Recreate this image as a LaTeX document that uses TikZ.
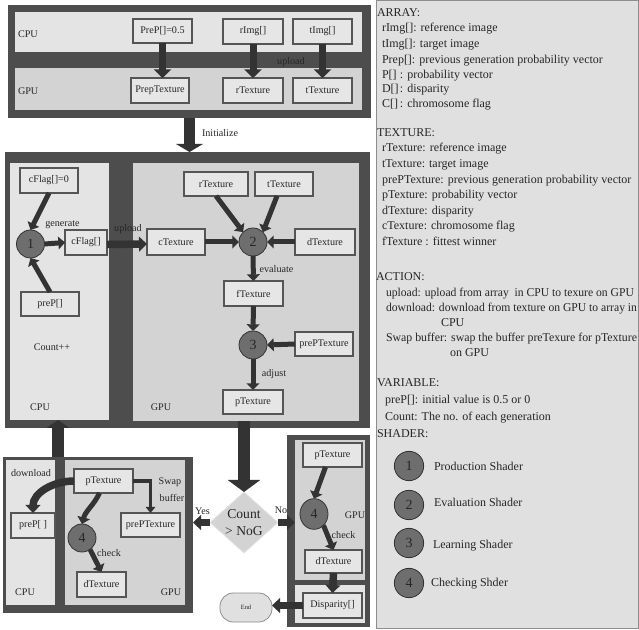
\documentclass[tikz,border=0pt]{standalone}
\usepackage{fontspec}
\setmainfont{Liberation Serif}
\usetikzlibrary{arrows.meta,shapes.geometric,calc}
\definecolor{cFrm}{HTML}{4D4D4D}
\definecolor{cCpu}{HTML}{E4E4E4}
\definecolor{cGpu}{HTML}{D3D3D3}
\definecolor{cBox}{HTML}{E6E6E6}
\definecolor{cEdge}{HTML}{555555}
\definecolor{cArr}{HTML}{333333}
\definecolor{cCirc}{HTML}{6E6E6E}
\definecolor{cLeg}{HTML}{E0E0E0}
\definecolor{cLegB}{HTML}{8C8C8C}
\definecolor{cTxt}{HTML}{262626}
\newcommand\fw[2]{\resizebox{\dimexpr #1pt*3/4\relax}{\height}{#2}}
\begin{document}
\begin{tikzpicture}[x=0.75pt,y=-0.75pt,
  every node/.style={inner sep=0pt, outer sep=0pt, text=cTxt},
  w/.style={minimum width=#1*0.75pt},
  h/.style={minimum height=#1*0.75pt},
  panel/.style={rectangle, anchor=north west, draw=none},
  frm/.style={panel, fill=cFrm},
  cpu/.style={panel, fill=cCpu},
  gpu/.style={panel, fill=cGpu},
  bx/.style={rectangle, draw=cEdge, fill=cBox, line width=0.8pt, font=\fontsize{7.6}{9}\selectfont},
  lbl/.style={font=\fontsize{7.6}{9}\selectfont},
  shd/.style={circle, draw=cArr, fill=cCirc, minimum size=21pt, line width=0.6pt, font=\fontsize{10.5}{12}\selectfont},
  lg/.style={anchor=base west, font=\fontsize{9}{11}\selectfont},
  arrm/.style={draw=cArr, line width=3.75pt, -{Triangle[length=5pt,width=9.5pt]}},
  arrt/.style={draw=cArr, line width=5.25pt, -{Triangle[length=6.5pt,width=13pt]}},
  arrw/.style={draw=cArr, line width=5.6pt, -{Triangle[length=6pt,width=11pt]}},
  arrI/.style={draw=cArr, line width=8.25pt, -{Triangle[length=6pt,width=20pt]}},
  arrD/.style={draw=cArr, line width=9pt, -{Triangle[length=9pt,width=24pt]}},
  arrU/.style={draw=cArr, line width=9pt, -{Triangle[length=6pt,width=17pt]}},
  arrs/.style={draw=cArr, line width=2.6pt, -{Triangle[length=4.5pt,width=7pt]}}
]
\useasboundingbox (0,0) rectangle (639,630);

% ---------- top block ----------
\node[frm, w=363, h=113] (top) at (8,5) {};
\node[cpu, w=347, h=40] (topcpu) at (15,12) {};
\node[gpu, w=347, h=42] (topgpu) at (15,68) {};
\node[lbl, anchor=west] (tcpul) at (18,34) {CPU};
\node[lbl, anchor=west] (tgpul) at (18,91) {GPU};
\node[bx, w=59, h=24] (preP0) at (162.5,31) {PreP[]=0.5};
\node[bx, w=60, h=25] (rImg) at (253,31.5) {rImg[]};
\node[bx, w=59, h=25] (tImg) at (322.5,31.5) {tImg[]};
\node[bx, w=58, h=25] (prepT) at (160,90.5) {PrepTexture};
\node[bx, w=60, h=25] (rT0) at (253,90.5) {rTexture};
\node[bx, w=59, h=25] (tT0) at (322.5,90.5) {tTexture};
\node[lbl] (upl0) at (291,62) {upload};
\draw[arrt] (preP0.south) -- (preP0.south |- prepT.north);
\draw[arrt] (rImg.south) -- (rT0.north);
\draw[arrt] (tImg.south) -- (tT0.north);

% ---------- middle block ----------
\node[frm, w=365, h=276] (mid) at (5,152) {};
\node[cpu, w=99, h=257] (midcpu) at (10,163) {};
\node[gpu, w=226, h=258] (midgpu) at (133,163) {};
\draw[arrI] (top.south) -- (top.south |- mid.north);
\node[lbl, anchor=west] (init) at (202,133) {Initialize};

\node[bx, w=58, h=25] (cF0) at (49,180.5) {cFlag[]=0};
\node[shd] (c1) at (30.5,244) {1};
\node[bx, w=42, h=25] (cF) at (86,242.5) {cFlag[]};
\node[bx, w=58, h=24] (preP) at (50,304) {preP[]};
\node[lbl] (gen) at (62.5,225) {generate};
\node[lbl] (cnt) at (52,347) {Count++};
\node[lbl] (mcpul) at (40,407) {CPU};
\node[lbl] (mgpul) at (161,407) {GPU};
\draw[arrm] (cF0.south) -- (c1.north);
\draw[arrm] (preP.north) -- (c1.south);
\draw[arrm] (c1.east) -- (cF.west);

\node[bx, w=58, h=26] (cT) at (176,242) {cTexture};
\node[shd] (c2) at (253,242) {2};
\node[bx, w=64, h=24] (rT) at (216,184) {rTexture};
\node[bx, w=58, h=24] (tT) at (284,184) {tTexture};
\node[bx, w=60, h=26] (dT) at (325,242) {dTexture};
\node[bx, w=59, h=25] (fT) at (253.5,293.5) {fTexture};
\node[shd] (c3) at (253,345) {3};
\node[bx, w=58, h=24] (pPT) at (324,344) {prePTexture};
\node[bx, w=60, h=24] (pT) at (253,402) {pTexture};
\node[lbl] (upl1) at (128,229) {upload};
\node[lbl] (evl) at (276.5,269) {evaluate};
\node[lbl] (adj) at (274,374) {adjust};
\draw[arrw] ($(cF.east)+(0,2)$) -- ($(cT.west)+(0,2)$);
\draw[arrm] (rT.south) -- (c2.north west);
\draw[arrm] ($(tT.south)+(-7,0)$) -- (c2.north east);
\draw[arrm] (cT.east) -- (c2.west);
\draw[arrm] (dT.west) -- (c2.east);
\draw[arrm] (c2.south) -- (fT.north);
\draw[arrm] (fT.south) -- (c3.north);
\draw[arrm] (pPT.west) -- (c3.east);
\draw[arrm] (c3.south) -- (pT.north);

% ---------- bottom-left block ----------
\node[frm, w=190, h=156] (bl) at (3,457) {};
\node[cpu, w=49, h=145] (blcpu) at (6,460) {};
\node[gpu, w=120, h=145] (blgpu) at (65,460) {};
\coordinate (upx) at (58,0);
\draw[arrU] (bl.north -| upx) -- (midcpu.south -| upx);
\node[bx, w=59, h=24] (pTb) at (103.5,481) {pTexture};
\node[bx, w=44, h=25] (prePb) at (33,525.5) {preP[ ]};
\node[bx, w=59, h=24] (pPTb) at (150.5,525) {prePTexture};
\node[shd] (c4b) at (82,538) {4};
\node[bx, w=49, h=25] (dTb) at (101.5,584.5) {dTexture};
\node[lbl] (dnl) at (31,473) {download};
\node[lbl] (bcpul) at (25,592) {CPU};
\node[lbl] (bgpul) at (171,592) {GPU};
\node[lbl] (swp1) at (170,482) {Swap};
\node[lbl] (swp2) at (172,498) {buffer};
\node[lbl] (chk1) at (109,553) {check};
\draw[arrw] (pTb.west) to[out=180,in=90] (prePb.north);
\draw[arrs] (pTb.east) -| (pPTb.north);
\draw[arrm] ($(pTb.south)+(-4,0)$) to[out=-115,in=75] (c4b.north);
\draw[arrm] (c4b.-55) -- (dTb.north);

% ---------- right block ----------
\node[frm, w=83, h=192] (rb) at (287,435) {};
\node[gpu, w=70, h=140] (rbgpu) at (295,440) {};
\node[cpu, w=70, h=38] (rbdisp) at (295,585) {};
\node[bx, w=59, h=24] (pTr) at (332.5,455) {pTexture};
\node[shd, minimum width=21pt, minimum height=23pt, ellipse] (c4r) at (314,514) {4};
\node[bx, w=57, h=23] (dTr) at (333.5,561.5) {dTexture};
\node[bx, w=59, h=25] (disp) at (332.5,605.5) {Disparity[]};
\node[lbl] (rgpul) at (355,515) {GPU};
\node[lbl] (chk2) at (343.5,535) {check};
\node[rectangle, rounded corners=10pt, draw=cLegB, fill=cLeg, line width=0.6pt, w=52, h=29,
      font=\fontsize{4.8}{6}\selectfont] (endn) at (246,607.5) {End};
\draw[arrm] ($(pTr.south)+(-7,0)$) -- (c4r.north);
\draw[arrm] (c4r.-50) -- (dTr.north);
\draw[arrw] (dTr.south) -- (disp.north);
\draw[arrw] (disp.west) -- (disp.west -| endn.east);

% ---------- decision ----------
\node[diamond, aspect=1.1, draw=cCpu, fill=cGpu, line width=0.6pt, w=68, h=61, inner sep=-1pt,
      align=center, font=\fontsize{10.2}{12.5}\selectfont] (dia) at (244,522.5) {Count\\> NoG};
\draw[arrD] (midgpu.south -| dia.north) -- (dia.north);
\draw[arrw] (dia.west) -- (dia.west -| bl.east);
\draw[arrw] (dia.east) -- (dia.east -| rbgpu.west);
\node[lbl] (yes) at (202.5,511) {Yes};
\node[lbl] (no) at (281,510) {No};

% ---------- legend ----------
\draw[draw=cLegB, fill=cLeg, line width=0.75pt] (376,1) rectangle (638,628);
\node[lg] (l1) at (377,17) {ARRAY:};
\node[lg] (l2) at (382,32) {rImg[]: reference image};
\node[lg] (l3) at (382,48) {tImg[]: target image};
\node[lg] (l4) at (382,64) {Prep[]: previous generation probability vector};
\node[lg] (l5) at (382,79) {\makebox[13.5pt][l]{P[]}: probability vector};
\node[lg] (l6) at (382,93) {\makebox[13.5pt][l]{D[]}: disparity};
\node[lg] (l7) at (382,108) {\makebox[13.5pt][l]{C[]}: chromosome flag};
\node[lg] (l8) at (377,137) {TEXTURE:};
\node[lg] (l9) at (382,152) {rTexture: reference image};
\node[lg] (l10) at (382,168) {tTexture: target image};
\node[lg] (l11) at (382,184) {prePTexture: previous generation probability vector};
\node[lg] (l12) at (382,199) {pTexture: probability vector};
\node[lg] (l13) at (382,215) {dTexture: disparity};
\node[lg] (l14) at (382,230) {cTexture: chromosome flag};
\node[lg] (l15) at (382,246) {fTexture : fittest winner};
\node[lg] (l16) at (376,281) {ACTION:};
\node[lg] (l17) at (386,297) {\fw{248}{upload: upload from array\ \ in CPU to texure on GPU}};
\node[lg] (l18) at (386,312) {\fw{251}{download: download from texture on GPU to array in}};
\node[lg] (l19) at (441,327) {CPU};
\node[lg] (l20) at (386,342) {\fw{251}{Swap buffer: swap the buffer preTexure for pTexture}};
\node[lg] (l21) at (450,357) {on GPU};
\node[lg] (l22) at (377,387) {VARIABLE:};
\node[lg] (l23) at (385,404) {preP[]: initial value is 0.5 or 0};
\node[lg] (l24) at (385,421) {Count: The no. of each generation};
\node[lg] (l25) at (377,438) {SHADER:};
\node[shd, minimum size=22pt] (s1) at (409,466) {1};
\node[shd, minimum size=22pt] (s2) at (409,505) {2};
\node[shd, minimum size=22pt] (s3) at (409,543) {3};
\node[shd, minimum size=22pt] (s4) at (409,583) {4};
\node[lg] (l26) at (434,471) {Production Shader};
\node[lg] (l27) at (434,507) {Evaluation Shader};
\node[lg] (l28) at (433,548) {Learning Shader};
\node[lg] (l29) at (431,586) {Checking Shder};
\end{tikzpicture}
\end{document}
